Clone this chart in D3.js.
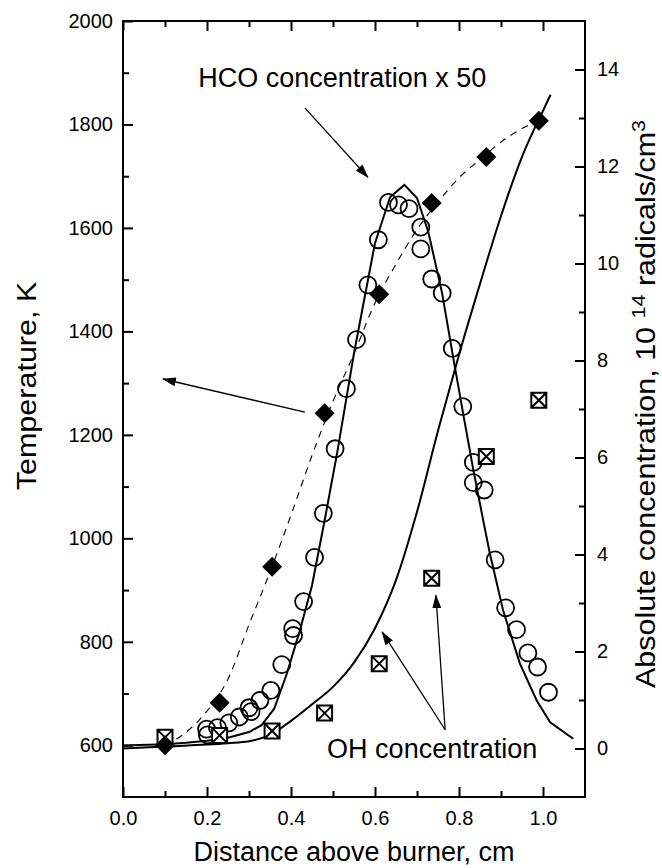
<!DOCTYPE html>
<html>
<head>
<meta charset="utf-8">
<title>HCO and OH profiles above a flat flame burner</title>
<script src="https://cdn.jsdelivr.net/npm/d3@7"></script>
<style>
  html, body { margin: 0; padding: 0; background: #ffffff; }
  #flame-profile svg { display: block; }
  #flame-profile text {
    font-family: Arial, 'Liberation Sans', Helvetica, sans-serif;
    fill: #000000;
  }
  #flame-profile .tick text { font-size: 20px; }
  #flame-profile .tick line { stroke: #000; stroke-width: 2px; }
  #flame-profile .axis-title,
  #flame-profile .note { font-size: 27px; }
</style>
</head>
<body>
<div id="flame-profile"></div>
<script>
/* ── DATA ───────────────────────────────────────────────────── */

// Measured temperature, K  (filled diamonds, left axis)
const tempDistance = [0.10, 0.23, 0.355, 0.48, 0.61, 0.735, 0.865, 0.99];
const tempMeasured = [600, 682, 945, 1242, 1472, 1648, 1737, 1807];

// Temperature profile used in the model (thin dashed line, left axis)
const tempFitDistance = [0.10, 0.15, 0.20, 0.25, 0.30, 0.35, 0.40, 0.45, 0.50, 0.55,
                         0.60, 0.65, 0.70, 0.75, 0.80, 0.85, 0.90, 0.95, 0.99];
const tempFit = [600, 625, 666, 728, 833, 935, 1045, 1160, 1265, 1357,
                 1455, 1530, 1597, 1650, 1697, 1732, 1766, 1792, 1807];

// Measured HCO x 50, 10^14 radicals/cm3 (open circles, right axis)
const hcoDistance = [0.199, 0.201, 0.225, 0.252, 0.277, 0.300, 0.305, 0.326, 0.352, 0.378,
                     0.404, 0.406, 0.430, 0.456, 0.477, 0.505, 0.532, 0.556, 0.583, 0.608,
                     0.632, 0.656, 0.681, 0.709, 0.709, 0.735, 0.760, 0.784, 0.809, 0.834,
                     0.834, 0.860, 0.886, 0.911, 0.937, 0.964, 0.987, 1.013];
const hcoMeasured = [0.40, 0.28, 0.43, 0.53, 0.65, 0.84, 0.76, 0.99, 1.20, 1.73,
                     2.47, 2.33, 3.03, 3.94, 4.85, 6.18, 7.42, 8.43, 9.56, 10.49,
                     11.26, 11.21, 11.13, 10.75, 10.30, 9.68, 9.39, 8.25, 7.05, 5.90,
                     5.48, 5.33, 3.89, 2.90, 2.45, 1.97, 1.68, 1.16];

// Modelled HCO x 50 (solid peaked line, right axis)
const hcoModelDistance = [0.00, 0.10, 0.15, 0.20, 0.25, 0.30, 0.33, 0.36, 0.39, 0.42,
                          0.45, 0.48, 0.51, 0.55, 0.60, 0.636, 0.67, 0.70, 0.727, 0.76,
                          0.786, 0.81, 0.834, 0.86, 0.874, 0.905, 0.945, 0.985, 1.017, 1.072];
const hcoModel = [0.06, 0.09, 0.12, 0.16, 0.22, 0.34, 0.48, 0.82, 1.54, 2.40,
                  3.36, 4.70, 6.10, 8.15, 10.42, 11.37, 11.62, 11.35, 10.65, 9.38,
                  8.07, 6.90, 5.75, 4.60, 4.00, 2.85, 1.75, 0.99, 0.54, 0.20];

// Measured OH, 10^14 radicals/cm3 (crossed squares, right axis)
const ohDistance = [0.10, 0.23, 0.355, 0.48, 0.61, 0.735, 0.865, 0.99];
const ohMeasured = [0.23, 0.27, 0.36, 0.73, 1.75, 3.51, 6.02, 7.18];

// Modelled OH (solid rising line, right axis)
const ohModelDistance = [0.00, 0.10, 0.20, 0.25, 0.30, 0.35, 0.40, 0.45, 0.50, 0.55,
                         0.60, 0.65, 0.70, 0.75, 0.80, 0.85, 0.90, 0.95, 1.00, 1.018];
const ohModel = [0.00, 0.04, 0.08, 0.11, 0.15, 0.28, 0.57, 0.91, 1.27, 1.77,
                 2.48, 3.47, 4.88, 6.55, 8.12, 9.58, 10.98, 12.20, 13.15, 13.48];

// Axis ticks
const distanceTicks = [0.0, 0.2, 0.4, 0.6, 0.8, 1.0];
const distanceMinor = [0.1, 0.3, 0.5, 0.7, 0.9];
const tempTicks = [600, 800, 1000, 1200, 1400, 1600, 1800, 2000];
const tempMinor = [700, 900, 1100, 1300, 1500, 1700, 1900];
const concTicks = [0, 2, 4, 6, 8, 10, 12, 14];
const concMinor = [1, 3, 5, 7, 9, 11, 13];

// Annotations, in data units (distance, K)
const noteText = ["HCO concentration x 50", "OH concentration"];
const notePos = [[0.179, 1872], [0.486, 575]];
const arrowFrom = [[0.433, 1832], [0.433, 1244], [0.767, 630], [0.767, 630]];
const arrowTo = [[0.583, 1698], [0.095, 1308], [0.617, 819], [0.745, 890]];

(function () {

  /* ── 1. FRAME & SCALES ─────────────────────────────────────── */
  const width = 662, height = 868;
  const frame = { left: 123, right: 585, top: 21, bottom: 797 };
  // the original figure is a little stretched vertically: rotated titles run longer
  const stretch = 1.13;

  const x = d3.scaleLinear().domain([0, 1.1]).range([frame.left, frame.right]);
  const yTemp = d3.scaleLinear().domain([500, 2000]).range([frame.bottom, frame.top]);
  const yConc = d3.scaleLinear().domain([-1, 15]).range([frame.bottom, frame.top]);

  const svg = d3.select("#flame-profile")
    .append("svg")
      .attr("width", width)
      .attr("height", height)
      .attr("viewBox", `0 0 ${width} ${height}`);

  // arrow head
  svg.append("defs").append("marker")
      .attr("id", "arrow-head")
      .attr("viewBox", "0 0 14 10")
      .attr("refX", 13)
      .attr("refY", 5)
      .attr("markerWidth", 14)
      .attr("markerHeight", 10)
      .attr("markerUnits", "userSpaceOnUse")
      .attr("orient", "auto")
    .append("path")
      .attr("d", "M0,0.5 L14,5 L0,9.5 Z")
      .attr("fill", "#000");

  /* ── 2. AXES (ticks point inward) ──────────────────────────── */
  const fmtDist = d3.format(".1f");

  function drawAxis(axis, tx, ty, withLabels) {
    const g = svg.append("g")
      .attr("transform", `translate(${tx},${ty})`)
      .call(axis);
    g.select(".domain").remove();
    if (!withLabels) g.selectAll(".tick text").remove();
    return g;
  }

  // bottom
  drawAxis(d3.axisBottom(x).tickValues(distanceTicks).tickSize(-10).tickPadding(14)
    .tickFormat(fmtDist), 0, frame.bottom, true);
  drawAxis(d3.axisBottom(x).tickValues(distanceMinor).tickSize(-6), 0, frame.bottom, false);
  // top (mirror)
  drawAxis(d3.axisTop(x).tickValues(distanceTicks).tickSize(-10), 0, frame.top, false);
  drawAxis(d3.axisTop(x).tickValues(distanceMinor).tickSize(-6), 0, frame.top, false);
  // left – temperature
  drawAxis(d3.axisLeft(yTemp).tickValues(tempTicks).tickSize(-10).tickPadding(10)
    .tickFormat(d3.format("d")), frame.left, 0, true);
  drawAxis(d3.axisLeft(yTemp).tickValues(tempMinor).tickSize(-6), frame.left, 0, false);
  // right – concentration
  drawAxis(d3.axisRight(yConc).tickValues(concTicks).tickSize(-10).tickPadding(12)
    .tickFormat(d3.format("d")), frame.right, 0, true);
  drawAxis(d3.axisRight(yConc).tickValues(concMinor).tickSize(-6), frame.right, 0, false);

  svg.selectAll(".tick text").attr("fill", "#000");

  // box
  svg.append("rect")
    .attr("x", frame.left)
    .attr("y", frame.top)
    .attr("width", frame.right - frame.left)
    .attr("height", frame.bottom - frame.top)
    .attr("fill", "none")
    .attr("stroke", "#000")
    .attr("stroke-width", 2);

  /* ── 3. AXIS TITLES ─────────────────────────────────────────── */
  svg.append("text")
    .attr("class", "axis-title")
    .attr("x", (frame.left + frame.right) / 2)
    .attr("y", 861)
    .attr("text-anchor", "middle")
    .text("Distance above burner, cm");

  svg.append("text")
    .attr("class", "axis-title")
    .attr("transform", `translate(36,386) scale(1,${stretch}) rotate(-90)`)
    .attr("text-anchor", "middle")
    .text("Temperature, K");

  const rightTitle = svg.append("text")
    .attr("class", "axis-title")
    .attr("transform", `translate(655,404) scale(1,${stretch}) rotate(-90)`)
    .attr("text-anchor", "middle");
  rightTitle.append("tspan").text("Absolute concentration, 10 ");
  rightTitle.append("tspan").attr("dy", -10).attr("font-size", "19px").text("14");
  rightTitle.append("tspan").attr("dy", 10).text(" radicals/cm");
  rightTitle.append("tspan").attr("dy", -10).attr("font-size", "19px").text("3");

  /* ── 4. LINES ───────────────────────────────────────────────── */
  const lineTemp = d3.line()
    .x((d, i) => x(tempFitDistance[i]))
    .y(d => yTemp(d))
    .curve(d3.curveMonotoneX);

  const lineConc = (dist, curve) => d3.line()
    .x((d, i) => x(dist[i]))
    .y(d => yConc(d))
    .curve(curve);

  svg.append("path")
    .datum(tempFit)
    .attr("d", lineTemp)
    .attr("fill", "none")
    .attr("stroke", "#000")
    .attr("stroke-width", 1.1)
    .attr("stroke-dasharray", "7,6");

  svg.append("path")
    .datum(hcoModel)
    .attr("d", lineConc(hcoModelDistance, d3.curveLinear))
    .attr("fill", "none")
    .attr("stroke", "#000")
    .attr("stroke-width", 2);

  svg.append("path")
    .datum(ohModel)
    .attr("d", lineConc(ohModelDistance, d3.curveMonotoneX))
    .attr("fill", "none")
    .attr("stroke", "#000")
    .attr("stroke-width", 2);

  /* ── 5. MARKERS ─────────────────────────────────────────────── */
  // HCO – open circles
  svg.append("g")
    .selectAll("circle")
    .data(hcoMeasured)
    .join("circle")
      .attr("cx", (d, i) => x(hcoDistance[i]))
      .attr("cy", d => yConc(d))
      .attr("r", 8.5)
      .attr("fill", "none")
      .attr("stroke", "#000")
      .attr("stroke-width", 1.8);

  // OH – crossed squares
  const half = 7.5;
  const crossSquare = `M${-half},${-half}H${half}V${half}H${-half}Z` +
                      `M${-half},${-half}L${half},${half}M${half},${-half}L${-half},${half}`;
  svg.append("g")
    .selectAll("path")
    .data(ohMeasured)
    .join("path")
      .attr("transform", (d, i) => `translate(${x(ohDistance[i])},${yConc(d)})`)
      .attr("d", crossSquare)
      .attr("fill", "#fff")
      .attr("stroke", "#000")
      .attr("stroke-width", 2);

  // temperature – filled diamonds
  const diamond = d3.symbol(d3.symbolSquare, 200)();
  svg.append("g")
    .selectAll("path")
    .data(tempMeasured)
    .join("path")
      .attr("transform", (d, i) => `translate(${x(tempDistance[i])},${yTemp(d)}) rotate(45)`)
      .attr("d", diamond)
      .attr("fill", "#000");

  /* ── 6. ANNOTATIONS ─────────────────────────────────────────── */
  svg.append("g")
    .selectAll("line")
    .data(arrowFrom)
    .join("line")
      .attr("x1", d => x(d[0]))
      .attr("y1", d => yTemp(d[1]))
      .attr("x2", (d, i) => x(arrowTo[i][0]))
      .attr("y2", (d, i) => yTemp(arrowTo[i][1]))
      .attr("stroke", "#000")
      .attr("stroke-width", 1.3)
      .attr("marker-end", "url(#arrow-head)");

  svg.append("g")
    .selectAll("text")
    .data(noteText)
    .join("text")
      .attr("class", "note")
      .attr("x", (d, i) => x(notePos[i][0]))
      .attr("y", (d, i) => yTemp(notePos[i][1]))
      .text(d => d);

})();
</script>
</body>
</html>
